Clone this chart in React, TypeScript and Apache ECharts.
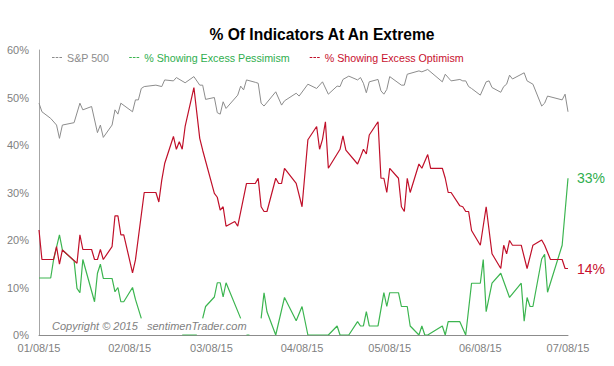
import React, { useEffect, useRef } from "react";
import * as echarts from "echarts";

const FONT = 'Arial, "Liberation Sans", sans-serif';

const axisStart = "2015-01-08";
const axisEnd = "2015-07-08";
const tickDates = ["2015-01-08", "2015-02-08", "2015-03-08", "2015-04-08", "2015-05-08", "2015-06-08", "2015-07-08"];
const yTicks = [0, 10, 20, 30, 40, 50, 60];

const seriesNames = ["S&P 500", "% Showing Excess Pessimism", "% Showing Excess Optimism"];
const seriesColors = ["#8c8c8c", "#3cb550", "#c0102a"];
const legendTextColors = ["#8c8c8c", "#2fae4e", "#c8102e"];

const spxDates = [
  "2015-01-08", "2015-01-09", "2015-01-12", "2015-01-14", "2015-01-15", "2015-01-16", "2015-01-20", "2015-01-22",
  "2015-01-23", "2015-01-26", "2015-01-28", "2015-01-29", "2015-01-30", "2015-02-02", "2015-02-03", "2015-02-04",
  "2015-02-05", "2015-02-09", "2015-02-10", "2015-02-11", "2015-02-12", "2015-02-13", "2015-02-17", "2015-02-19",
  "2015-02-20", "2015-02-23", "2015-02-24", "2015-02-27", "2015-03-02", "2015-03-04", "2015-03-05", "2015-03-06",
  "2015-03-09", "2015-03-10", "2015-03-11", "2015-03-12", "2015-03-13", "2015-03-17", "2015-03-18", "2015-03-19",
  "2015-03-20", "2015-03-23", "2015-03-24", "2015-03-25", "2015-03-26", "2015-03-30", "2015-04-01", "2015-04-02",
  "2015-04-06", "2015-04-07", "2015-04-10", "2015-04-13", "2015-04-15", "2015-04-17", "2015-04-20", "2015-04-21",
  "2015-04-22", "2015-04-24", "2015-04-27", "2015-04-28", "2015-04-29", "2015-04-30", "2015-05-01", "2015-05-04",
  "2015-05-05", "2015-05-06", "2015-05-07", "2015-05-08", "2015-05-12", "2015-05-13", "2015-05-14", "2015-05-18",
  "2015-05-19", "2015-05-21", "2015-05-26", "2015-05-27", "2015-05-29", "2015-06-01", "2015-06-02", "2015-06-03",
  "2015-06-04", "2015-06-05", "2015-06-08", "2015-06-10", "2015-06-11", "2015-06-12", "2015-06-15", "2015-06-16",
  "2015-06-17", "2015-06-18", "2015-06-19", "2015-06-23", "2015-06-24", "2015-06-26", "2015-06-29", "2015-06-30",
  "2015-07-01", "2015-07-06", "2015-07-07", "2015-07-08",
];
const spxValues = [
  48.8, 47.0, 45.6, 44.2, 41.4, 44.2, 44.7, 48.8,
  47.4, 48.1, 42.6, 44.2, 41.6, 44.2, 47.4, 46.5,
  48.8, 47.0, 49.5, 49.5, 51.9, 52.3, 52.6, 52.3,
  53.7, 53.5, 54.2, 53.1, 54.4, 52.6, 52.6, 49.6,
  50.0, 46.8, 46.5, 49.1, 47.7, 50.5, 52.4, 51.6,
  53.7, 53.2, 53.0, 48.8, 48.2, 51.2, 48.4, 49.3,
  50.9, 50.3, 52.8, 51.9, 53.3, 50.7, 52.4, 52.3,
  53.8, 54.5, 53.7, 54.2, 53.0, 51.0, 53.3, 53.8,
  51.4, 50.7, 51.7, 54.4, 52.6, 52.6, 54.9, 55.6,
  55.4, 55.9, 53.3, 54.9, 53.5, 53.8, 53.5, 53.5,
  52.3, 51.9, 50.5, 53.3, 53.5, 52.1, 51.1, 52.3,
  52.8, 54.7, 53.9, 55.2, 53.5, 52.8, 48.2, 48.8,
  50.3, 49.5, 50.7, 47.0,
];

const pessDates = [
  "2015-01-08", "2015-01-12", "2015-01-13", "2015-01-15", "2015-01-16", "2015-01-20", "2015-01-21", "2015-01-22",
  "2015-01-23", "2015-01-27", "2015-01-28", "2015-01-29", "2015-01-30", "2015-02-02", "2015-02-03", "2015-02-04",
  "2015-02-05", "2015-02-06", "2015-02-09", "2015-02-10", "2015-02-11", "2015-02-12", "2015-02-17", "2015-02-26",
  "2015-03-03", "2015-03-04", "2015-03-05", "2015-03-06", "2015-03-09", "2015-03-10", "2015-03-11", "2015-03-12",
  "2015-03-13", "2015-03-18", "2015-03-19", "2015-03-20", "2015-03-21", "2015-03-23", "2015-03-25", "2015-03-26",
  "2015-03-27", "2015-03-30", "2015-04-02", "2015-04-06", "2015-04-08", "2015-04-10", "2015-04-17", "2015-04-20",
  "2015-04-21", "2015-04-24", "2015-04-27", "2015-04-28", "2015-04-29", "2015-04-30", "2015-05-01", "2015-05-04",
  "2015-05-06", "2015-05-07", "2015-05-08", "2015-05-11", "2015-05-12", "2015-05-14", "2015-05-15", "2015-05-18",
  "2015-05-19", "2015-05-20", "2015-05-21", "2015-05-26", "2015-05-27", "2015-05-28", "2015-06-01", "2015-06-03",
  "2015-06-05", "2015-06-08", "2015-06-09", "2015-06-10", "2015-06-12", "2015-06-15", "2015-06-18", "2015-06-22",
  "2015-06-23", "2015-06-24", "2015-06-25", "2015-06-26", "2015-06-29", "2015-06-30", "2015-07-01", "2015-07-06",
  "2015-07-08",
];
const pessValues: (number | null)[] = [
  12, 12, 15.9, 21.1, 17.9, 15.6, 9.8, 8.9,
  15.9, 7.0, 13.0, 14.9, 11.9, 11.9, 9.1, 10.0,
  7.0, 7.0, 10.0, 7.5, 5.5, 3.5, null, 0,
  0, null, 3.5, 6.0, 8.0, 11, 11, 8,
  11, 3.5, null, 0, 0, null, 3.5, 8.9,
  4.9, 0, 7.9, 3.0, 6.0, 0, 0, 1.9,
  0, 0, 2.8, 1.9, 1.9, 4.9, 1.9, 1.9,
  8.9, 6.0, 8.9, 8.9, 6.0, 6.0, 1.9, 0,
  1.9, 0, 0, 1.9, 0, 2.8, 2.8, 0,
  10.9, 10.9, 15.9, 4.9, 10.9, 13.0, 7.9, 10.9,
  2.9, 7.9, 6.0, 6.0, 16.0, 17.0, 9.0, 18.9,
  33,
];

const optDates = [
  "2015-01-08", "2015-01-09", "2015-01-13", "2015-01-14", "2015-01-15", "2015-01-16", "2015-01-21", "2015-01-22",
  "2015-01-23", "2015-01-26", "2015-01-27", "2015-01-28", "2015-01-29", "2015-01-30", "2015-02-02", "2015-02-03",
  "2015-02-04", "2015-02-05", "2015-02-06", "2015-02-09", "2015-02-10", "2015-02-13", "2015-02-17", "2015-02-18",
  "2015-02-19", "2015-02-20", "2015-02-23", "2015-02-24", "2015-02-25", "2015-02-26", "2015-02-27", "2015-03-02",
  "2015-03-04", "2015-03-05", "2015-03-09", "2015-03-10", "2015-03-11", "2015-03-12", "2015-03-13", "2015-03-16",
  "2015-03-17", "2015-03-20", "2015-03-23", "2015-03-24", "2015-03-25", "2015-03-26", "2015-03-27", "2015-03-30",
  "2015-03-31", "2015-04-01", "2015-04-02", "2015-04-06", "2015-04-08", "2015-04-10", "2015-04-13", "2015-04-14",
  "2015-04-15", "2015-04-16", "2015-04-17", "2015-04-21", "2015-04-22", "2015-04-23", "2015-04-27", "2015-04-28",
  "2015-04-29", "2015-04-30", "2015-05-01", "2015-05-04", "2015-05-05", "2015-05-06", "2015-05-07", "2015-05-08",
  "2015-05-11", "2015-05-12", "2015-05-13", "2015-05-14", "2015-05-15", "2015-05-18", "2015-05-19", "2015-05-21",
  "2015-05-22", "2015-05-26", "2015-05-27", "2015-05-28", "2015-05-29", "2015-06-01", "2015-06-02", "2015-06-03",
  "2015-06-04", "2015-06-05", "2015-06-08", "2015-06-10", "2015-06-12", "2015-06-15", "2015-06-16", "2015-06-17",
  "2015-06-18", "2015-06-19", "2015-06-22", "2015-06-24", "2015-06-26", "2015-06-29", "2015-06-30", "2015-07-02",
  "2015-07-06", "2015-07-07", "2015-07-08",
];
const optValues = [
  22.1, 15.9, 15.9, 18.6, 14.9, 17.9, 15.1, 21.1,
  18.0, 18.0, 15.9, 15.9, 18.0, 15.9, 18.6, 25.1,
  25.1, 21.1, 21.1, 13.1, 15.8, 30.0, 30.0, 28.0,
  32.6, 36.1, 41.8, 39.1, 40.7, 39.1, 43.9, 52.1,
  41.4, 38.9, 29.8, 29.0, 26.3, 27.0, 22.9, 23.9,
  22.9, 31.9, 31.9, 33.0, 27.0, 26.0, 26.0, 33.0,
  31.9, 31.9, 35.1, 31.9, 27.0, 41.1, 43.9, 39.1,
  41.2, 44.9, 35.1, 39.1, 41.9, 38.9, 36.0, 37.5,
  39.1, 38.1, 42.1, 44.9, 33.0, 33.0, 30.0, 35.1,
  33.0, 27.0, 26.0, 33.0, 30.0, 36.0, 35.1, 38.0,
  35.1, 35.1, 33.0, 30.0, 30.0, 27.2, 27.0, 26.0,
  26.0, 22.0, 18.9, 27.0, 17.1, 14.0, 18.9, 17.1,
  19.9, 18.9, 18.9, 14.0, 18.9, 20.0, 18.9, 15.9,
  15.9, 14.0, 14.0,
];

const copyrightText = "Copyright \u00a9 2015   sentimenTrader.com";
const titleText = "% Of Indicators At An Extreme";

function ts(d: string): number {
  const [y, m, day] = d.split("-").map(Number);
  return new Date(y, m - 1, day).getTime();
}

function pad(n: number) {
  return n < 10 ? "0" + n : String(n);
}

function fmtDate(v: number) {
  const d = new Date(v);
  return pad(d.getMonth() + 1) + "/" + pad(d.getDate()) + "/" + pad(d.getFullYear() % 100);
}

const dashIcon = "path://M0,0h2.6v1h-2.6zM3.7,0h2.6v1h-2.6zM7.4,0h2.6v1h-2.6z";

export default function App() {
  const ref = useRef<HTMLDivElement>(null);

  useEffect(() => {
    document.body.style.margin = "0";
    if (!ref.current) return;
    const chart = echarts.init(ref.current, undefined, { renderer: "svg" });

    const pairs = (dates: string[], vals: (number | null)[]) =>
      dates.map((d, i) => [ts(d), vals[i]]);

    const endLabel = (color: string) => ({
      show: true,
      distance: 9,
      color,
      fontSize: 14,
      fontFamily: FONT,
      formatter: (p: any) => Math.round(p.value[1]) + "%",
    });

    chart.setOption({
      animation: false,
      backgroundColor: "#ffffff",
      title: {
        text: titleText,
        left: 317,
        textAlign: "center",
        top: 21,
        textStyle: { fontFamily: FONT, fontSize: 15.6, fontWeight: "bold", color: "#000000" },
      },
      legend: {
        left: 47,
        top: 47,
        itemGap: 20,
        itemWidth: 10,
        itemHeight: 1,
        selectedMode: false,
        icon: dashIcon,
        textStyle: { fontFamily: FONT, fontSize: 10.7 },
        data: seriesNames.map((n, i) => ({ name: n, textStyle: { color: legendTextColors[i] } })),
      },
      grid: { left: 39, right: 46, top: 50, bottom: 31, containLabel: false },
      xAxis: {
        type: "value",
        min: ts(axisStart),
        max: ts(axisEnd),
        splitLine: { show: false },
        axisTick: { show: false },
        axisLine: { show: true, onZero: false, lineStyle: { color: "#8c8c8c", width: 1 } },
        axisLabel: {
          customValues: tickDates.map(ts),
          formatter: (v: number) => fmtDate(v),
          color: "#7f7f7f",
          fontFamily: FONT,
          fontSize: 11,
          margin: 7,
        },
      },
      yAxis: {
        type: "value",
        min: yTicks[0],
        max: yTicks[yTicks.length - 1],
        interval: 10,
        splitLine: { show: false },
        axisTick: { show: false },
        axisLine: { show: true, lineStyle: { color: "#a6a6a6", width: 1 } },
        axisLabel: {
          formatter: "{value}%",
          color: "#7f7f7f",
          fontFamily: FONT,
          fontSize: 11,
          margin: 10,
        },
      },
      graphic: [
        {
          type: "text",
          left: 52,
          top: 320,
          style: {
            text: copyrightText,
            font: 'italic 11px Arial, "Liberation Sans", sans-serif',
            fill: "#7f7f7f",
          },
        },
      ],
      series: [
        {
          name: seriesNames[0],
          type: "line",
          data: pairs(spxDates, spxValues),
          showSymbol: false,
          color: seriesColors[0],
          lineStyle: { width: 1, color: seriesColors[0] },
        },
        {
          name: seriesNames[1],
          type: "line",
          data: pairs(pessDates, pessValues),
          showSymbol: false,
          connectNulls: false,
          color: seriesColors[1],
          lineStyle: { width: 1.2, color: seriesColors[1] },
          endLabel: endLabel("#2fae4e"),
        },
        {
          name: seriesNames[2],
          type: "line",
          data: pairs(optDates, optValues),
          showSymbol: false,
          color: seriesColors[2],
          lineStyle: { width: 1.2, color: seriesColors[2] },
          endLabel: endLabel("#c8102e"),
        },
      ],
    });

    return () => chart.dispose();
  }, []);

  return <div ref={ref} style={{ width: 614, height: 366 }} />;
}
